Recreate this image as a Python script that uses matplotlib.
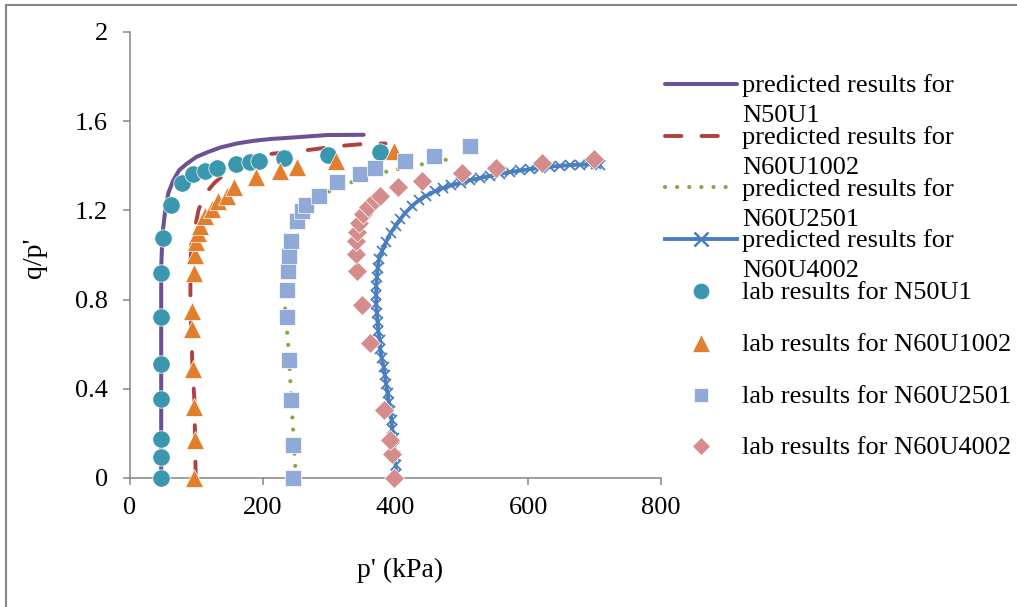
import matplotlib.pyplot as plt
from matplotlib.lines import Line2D
from matplotlib.ticker import FuncFormatter

plt.rcParams['font.family'] = ['Liberation Serif', 'DejaVu Serif']

W, H = 1017, 607

# predicted curves
pred_n50u1_p = [47, 47, 47, 47, 49, 53, 58, 65, 74, 85, 100, 116, 136, 161, 186, 211, 246, 297, 352]
pred_n50u1_q = [0, 0.3, 0.6, 0.945, 1.094, 1.199, 1.28, 1.333, 1.38, 1.408, 1.44, 1.46, 1.482, 1.50,
                1.512, 1.52, 1.527, 1.538, 1.539]

pred_n60u1002_p = [99, 97, 94, 91, 91, 93, 98, 103, 112, 128, 150, 180, 211, 266, 317, 360, 385]
pred_n60u1002_q = [0, 0.35, 0.5, 0.8, 0.96, 1.06, 1.124, 1.199, 1.27, 1.326, 1.38, 1.42, 1.453, 1.47,
                   1.489, 1.50, 1.50]

pred_n60u2501_p = [250, 247, 244, 239, 235, 230, 232, 238, 249, 262, 278, 297, 320, 350, 392, 427, 460, 478]
pred_n60u2501_q = [0, 0.15, 0.31, 0.57, 0.72, 0.88, 0.98, 1.06, 1.124, 1.18, 1.235, 1.281, 1.31, 1.345,
                   1.378, 1.40, 1.417, 1.428]

pred_n60u4002_p = [401, 400, 399, 398, 397, 395, 394, 392, 390, 388, 386, 384, 382, 379, 377, 376, 374,
                   373, 372, 371, 371, 371, 372, 373,
                   375, 380, 386, 393, 400, 407, 415, 425, 435, 446, 459, 471, 484, 498, 512, 527, 543,
                   558, 573, 588, 603, 618, 633, 648, 663, 678, 692, 702, 708]
pred_n60u4002_q = [0.02, 0.06, 0.10, 0.14, 0.18, 0.22, 0.26, 0.30, 0.34, 0.38, 0.42, 0.46, 0.50, 0.54,
                   0.58, 0.62, 0.66, 0.70, 0.74, 0.78, 0.82, 0.86, 0.90, 0.94,
                   0.98, 1.02, 1.06, 1.10, 1.13, 1.16, 1.19, 1.22, 1.245, 1.265, 1.285, 1.30, 1.312,
                   1.324, 1.335, 1.345, 1.355, 1.364, 1.372, 1.379, 1.385, 1.391, 1.396, 1.400, 1.403,
                   1.405, 1.407, 1.408, 1.405]

# lab results
lab_n50u1_p = [47, 47, 47, 47, 47, 47, 47, 50, 62, 79, 95, 113, 131, 159, 181, 195, 232, 299, 377]
lab_n50u1_q = [0, 0.094, 0.176, 0.356, 0.512, 0.721, 0.920, 1.077, 1.224, 1.323, 1.363, 1.378, 1.388,
               1.408, 1.418, 1.423, 1.433, 1.448, 1.464]

lab_n60u1002_p = [97, 98, 96, 95, 94, 93, 96, 98, 100, 103, 106, 113, 123, 133, 146, 157, 190, 226,
                  251, 310, 398]
lab_n60u1002_q = [0, 0.169, 0.318, 0.49, 0.669, 0.748, 0.918, 1.002, 1.057, 1.10, 1.132, 1.176, 1.206,
                  1.244, 1.266, 1.303, 1.348, 1.378, 1.393, 1.423, 1.467]

lab_n60u2501_p = [246, 246, 242, 239, 236.5, 236.5, 237.5, 240, 243, 252, 259, 265, 284, 312.5, 347,
                  369, 415, 458, 512.5]
lab_n60u2501_q = [0, 0.146, 0.352, 0.53, 0.721, 0.845, 0.93, 0.994, 1.061, 1.151, 1.199, 1.226, 1.266,
                  1.329, 1.363, 1.388, 1.423, 1.445, 1.487]

lab_n60u4002_p = [397, 394.5, 392, 383, 362, 350, 341.5, 340.5, 340.5, 342.5, 345.5, 351.5, 359, 369,
                  377, 403.5, 440.5, 500, 551, 620, 698.5]
lab_n60u4002_q = [0, 0.109, 0.169, 0.303, 0.606, 0.778, 0.927, 1.005, 1.064, 1.102, 1.142, 1.184,
                  1.217, 1.247, 1.266, 1.306, 1.33, 1.366, 1.39, 1.413, 1.43]

pred_labels = [('predicted results for', 'N50U1'), ('predicted results for', 'N60U1002'),
               ('predicted results for', 'N60U2501'), ('predicted results for', 'N60U4002')]
lab_labels = ['lab results for N50U1', 'lab results for N60U1002',
              'lab results for N60U2501', 'lab results for N60U4002']

x_ticks = [0, 200, 400, 600, 800]
y_ticks = [0, 0.4, 0.8, 1.2, 1.6, 2]

pred_styles = [
    dict(color='#6E5096', lw=2.9, ls='-', solid_capstyle='round'),
    dict(color='#B0403D', lw=2.8, ls=(0, (4.2, 5.2)), dash_capstyle='round'),
    dict(color='#86A843', lw=3.0, ls=(0, (0.01, 2.9)), dash_capstyle='round'),
    dict(color='#4A7EBF', lw=2.8, ls='-', marker='x', ms=7.5, mew=1.3),
]
lab_styles = [
    dict(color='#3A97AE', marker='o', ms=12.5),
    dict(color='#E27F2E', marker='^', ms=13.5),
    dict(color='#91A9D6', marker='s', ms=11),
    dict(color='#D48C8C', marker='D', ms=10),
]

fig = plt.figure(figsize=(W / 100, H / 100), dpi=100)
ax = fig.add_axes([130 / W, 1 - 478 / H, (661 - 130) / W, (478 - 32) / H])

preds = [(pred_n50u1_p, pred_n50u1_q), (pred_n60u1002_p, pred_n60u1002_q),
         (pred_n60u2501_p, pred_n60u2501_q), (pred_n60u4002_p, pred_n60u4002_q)]
labs = [(lab_n50u1_p, lab_n50u1_q), (lab_n60u1002_p, lab_n60u1002_q),
        (lab_n60u2501_p, lab_n60u2501_q), (lab_n60u4002_p, lab_n60u4002_q)]

for (p, q), st in zip(preds, pred_styles):
    ax.plot(p, q, clip_on=False, zorder=2, **st)
for (p, q), st in zip(labs, lab_styles):
    ax.plot(p, q, ls='none', mec='white', mew=0.5, clip_on=False, zorder=3, **st)

ax.set_xlim(0, 800)
ax.set_ylim(0, 2)
ax.set_xticks(x_ticks)
ax.set_yticks(y_ticks)
ax.yaxis.set_major_formatter(FuncFormatter(lambda v, _: f'{v:g}'))
for side in ('top', 'right'):
    ax.spines[side].set_visible(False)
for side in ('left', 'bottom'):
    ax.spines[side].set_color('#868686')
    ax.spines[side].set_linewidth(1.1)
ax.tick_params(direction='out', length=5, width=1.1, color='#868686', labelsize=19, pad=11)
ax.tick_params(axis='x', pad=9)

fig.text(400 / W, 1 - 570 / H, "p' (kPa)", ha='center', va='center', fontsize=20)
fig.text(35 / W, 1 - 258 / H, "q/p'", ha='center', va='center', rotation=90, fontsize=20)

# legend on the right, drawn entry by entry
def fx(x):
    return x / W

def fy(y):
    return 1 - y / H

step = 51.7
for i, ((l1, l2), st) in enumerate(zip(pred_labels, pred_styles)):
    base = 92.3 + step * i
    hy = base - 8.5
    kw = dict(st)
    if 'marker' in kw:
        fig.add_artist(Line2D([fx(665), fx(737)], [fy(hy), fy(hy)], transform=fig.transFigure,
                              color=kw['color'], lw=kw['lw']))
        fig.add_artist(Line2D([fx(701)], [fy(hy)], transform=fig.transFigure, ls='none',
                              color=kw['color'], marker='x', ms=10, mew=1.8))
    else:
        fig.add_artist(Line2D([fx(665), fx(737)], [fy(hy), fy(hy)], transform=fig.transFigure, **kw))
    fig.text(fx(742), fy(base), l1, va='baseline', ha='left', fontsize=19)
    fig.text(fx(742), fy(base + 30), l2, va='baseline', ha='left', fontsize=19)

for i, (lab, st) in enumerate(zip(lab_labels, lab_styles)):
    base = 92.3 + step * (i + 4)
    hy = base - 8
    fig.add_artist(Line2D([fx(701)], [fy(hy)], transform=fig.transFigure, ls='none',
                          color=st['color'], marker=st['marker'], ms=st['ms'] * 0.95,
                          mec='white', mew=0.5))
    fig.text(fx(742), fy(base), lab, va='baseline', ha='left', fontsize=19)

# chart frame edges
fig.add_artist(Line2D([fx(6), fx(6)], [0, fy(5)], transform=fig.transFigure, color='#868686', lw=1.5))
fig.add_artist(Line2D([fx(6), 1], [fy(5), fy(5)], transform=fig.transFigure, color='#868686', lw=1.5))

fig.savefig('out.png', dpi=100)
